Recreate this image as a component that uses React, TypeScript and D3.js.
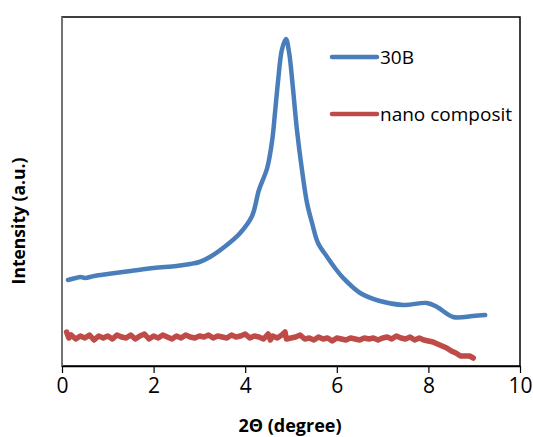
import React, { useEffect, useRef } from "react";
import * as d3 from "d3";

// 30B clay (blue) - 2theta in degree, intensity in a.u.
const angle30B = [0.13, 0.3, 0.4, 0.5, 0.7, 1.0, 1.5, 2.0, 2.5, 2.8, 3.0, 3.23, 3.6, 3.89, 4.15, 4.3, 4.48, 4.59, 4.65, 4.72, 4.8, 4.89, 4.96, 5.04, 5.13, 5.24, 5.35, 5.46, 5.59, 5.79, 5.96, 6.14, 6.51, 6.94, 7.45, 7.97, 8.19, 8.54, 8.97, 9.24];
const int30B = [86, 88, 89, 88, 90, 92, 95, 98, 100, 102, 104, 109, 121, 133, 150, 176, 198, 226, 253, 286, 316, 327, 313, 279, 236, 196, 163, 143, 123, 109, 98, 88, 73, 65, 61, 63, 59, 49, 50, 51];

// nano composite (red) - noisy flat trace
const angleNano = [0.1, 0.15, 0.2, 0.3, 0.4, 0.5, 0.6, 0.7, 0.8, 0.9, 1.0, 1.1, 1.2, 1.3, 1.4, 1.5, 1.6, 1.7, 1.8, 1.9, 2.0, 2.1, 2.2, 2.3, 2.4, 2.5, 2.6, 2.7, 2.8, 2.9, 3.0, 3.1, 3.2, 3.3, 3.4, 3.5, 3.6, 3.7, 3.8, 3.9, 4.0, 4.1, 4.2, 4.3, 4.4, 4.5, 4.55, 4.6, 4.7, 4.8, 4.87, 4.9, 5.0, 5.1, 5.2, 5.3, 5.4, 5.5, 5.6, 5.7, 5.8, 5.9, 6.0, 6.1, 6.2, 6.3, 6.4, 6.5, 6.6, 6.7, 6.8, 6.9, 7.0, 7.1, 7.2, 7.3, 7.4, 7.5, 7.6, 7.7, 7.8, 7.9, 8.0, 8.1, 8.2, 8.3, 8.4, 8.5, 8.6, 8.7, 8.8, 8.9, 8.98];
const intNano = [34, 28, 31, 27, 30, 28, 31, 26, 30, 28, 30, 27, 31, 29, 28, 31, 27, 30, 32, 27, 30, 28, 31, 29, 27, 30, 28, 31, 29, 28, 30, 29, 31, 28, 30, 29, 28, 31, 29, 30, 32, 28, 30, 29, 27, 32, 26, 30, 28, 31, 34, 27, 28, 29, 31, 27, 28, 26, 29, 27, 28, 25, 28, 27, 26, 28, 27, 26, 28, 27, 28, 26, 28, 29, 27, 30, 28, 27, 29, 26, 28, 26, 25, 24, 22, 20, 18, 15, 13, 10, 10, 10, 8];

const xTicks = [0, 2, 4, 6, 8, 10];
const legendNames = ["30B", "nano composit"];
const colors = ["#4a7ebb", "#be4b48"];
const font = "'Open Sans', sans-serif";

export default function App() {
  const ref = useRef<SVGSVGElement>(null);

  useEffect(() => {
    const svg = d3.select(ref.current);
    svg.selectAll("*").remove();

    const left = 62, right = 520, top = 17, bottom = 366;
    const x = d3.scaleLinear().domain([0, 10]).range([left, right]);
    const y = d3.scaleLinear().domain([0, 349]).range([bottom, top]);

    // plot area frame
    svg.append("rect")
      .attr("x", left).attr("y", top)
      .attr("width", right - left).attr("height", bottom - top)
      .attr("fill", "white").attr("stroke", "black").attr("stroke-width", 1.5);
    svg.append("line")
      .attr("x1", left).attr("x2", left).attr("y1", top).attr("y2", bottom)
      .attr("stroke", "#868686").attr("stroke-width", 1.5);

    // x axis
    const ax = svg.append("g")
      .attr("transform", `translate(0, ${bottom})`)
      .call(d3.axisBottom(x).tickValues(xTicks).tickSize(7).tickSizeOuter(0).tickPadding(5));
    ax.select(".domain").attr("stroke", "black").attr("stroke-width", 1.5);
    ax.selectAll(".tick line").attr("stroke", "black").attr("stroke-width", 1.2);
    ax.selectAll("text")
      .attr("font-family", font)
      .attr("font-size", 21).attr("fill", "black");

    const series = [
      { xs: angle30B, ys: int30B, w: 4.5 },
      { xs: angleNano, ys: intNano, w: 5.5 },
    ];
    series.forEach((s, k) => {
      const gen = d3.line<number>()
        .x((d) => x(d))
        .y((d, i) => y(s.ys[i]))
        .curve(k === 0 ? d3.curveCatmullRom : d3.curveLinear);
      svg.append("path")
        .attr("d", gen(s.xs))
        .attr("fill", "none")
        .attr("stroke", colors[k])
        .attr("stroke-width", s.w)
        .attr("stroke-linejoin", "round")
        .attr("stroke-linecap", "round");
    });

    // legend
    legendNames.forEach((name, i) => {
      const ly = 57 + i * 57;
      svg.append("line")
        .attr("x1", 332).attr("x2", 377).attr("y1", ly).attr("y2", ly)
        .attr("stroke", colors[i]).attr("stroke-width", 4.5).attr("stroke-linecap", "round");
      svg.append("text")
        .attr("x", 380).attr("y", ly + 7)
        .attr("font-family", font)
        .attr("font-size", 19)
        .text(name);
    });

    // axis titles
    svg.append("text")
      .attr("x", 290).attr("y", 432)
      .attr("text-anchor", "middle")
      .attr("font-family", font)
      .attr("font-weight", "bold").attr("font-size", 18)
      .text("2Θ (degree)");
    svg.append("text")
      .attr("transform", "translate(25, 221) rotate(-90)")
      .attr("text-anchor", "middle")
      .attr("font-family", font)
      .attr("font-weight", "bold").attr("font-size", 17.5)
      .text("Intensity (a.u.)");
  }, []);

  return (
    <svg ref={ref} width={533} height={437}
      style={{ position: "absolute", left: 0, top: 0, background: "white" }} />
  );
}
